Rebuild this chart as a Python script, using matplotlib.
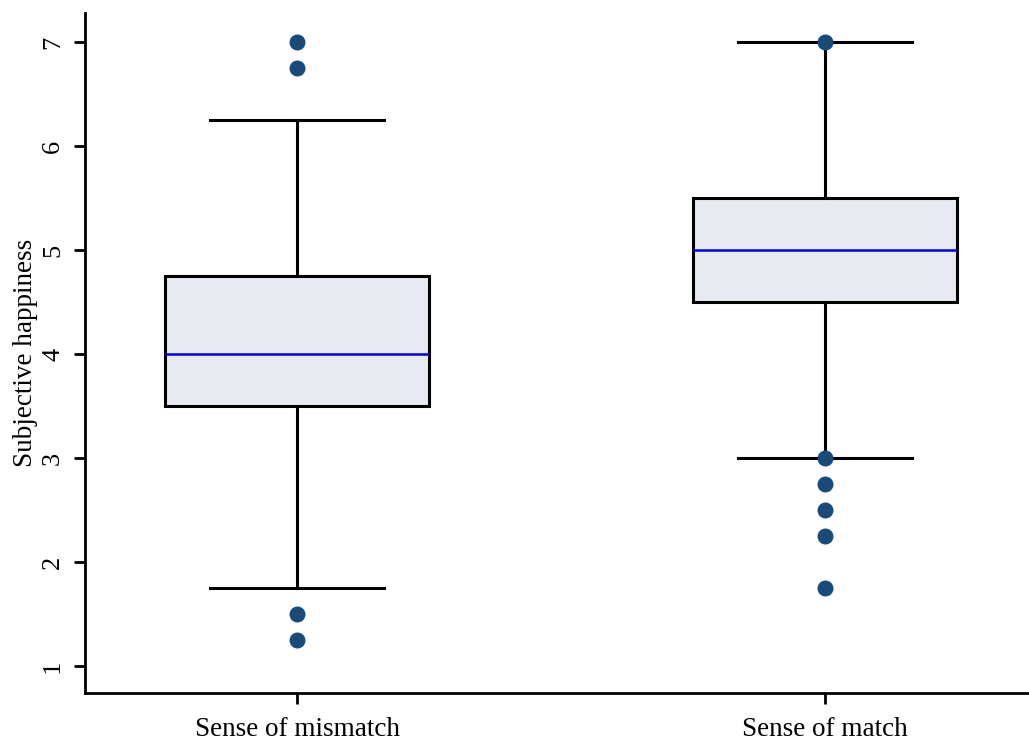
import matplotlib.pyplot as plt

# Box statistics
groups = ["Sense of mismatch", "Sense of match"]
medians = [4.0, 5.0]
q1s = [3.5, 4.5]
q3s = [4.75, 5.5]
whisker_lo = [1.75, 3.0]
whisker_hi = [6.25, 7.0]
outliers = [[7.0, 6.75, 1.5, 1.25], [7.0, 3.0, 2.75, 2.5, 2.25, 1.75]]

plt.rcParams['font.family'] = ['Liberation Serif', 'DejaVu Serif']

stats = []
for i in range(len(groups)):
    stats.append({'med': medians[i], 'q1': q1s[i], 'q3': q3s[i],
                  'whislo': whisker_lo[i], 'whishi': whisker_hi[i],
                  'fliers': outliers[i], 'label': groups[i]})

fig = plt.figure(figsize=(10.29, 7.46), dpi=100)
ax = fig.add_axes([85 / 1029, 53 / 746, 944 / 1029, 680 / 746])

ax.bxp(stats, positions=[0, 1], widths=0.5, patch_artist=True,
       boxprops=dict(facecolor='#e8eaf2', edgecolor='black', linewidth=2.2),
       medianprops=dict(color='#0000ee', linewidth=1.8),
       whiskerprops=dict(color='black', linewidth=2.2),
       capprops=dict(color='black', linewidth=2.2), capwidths=0.33,
       flierprops=dict(marker='o', markerfacecolor='#1a4a7a',
                       markeredgecolor='#1a4a7a', markersize=10.5),
       zorder=2)

ax.set_xlim(-0.4015, 1.386)
ax.set_ylim(0.74, 7.28)
ax.set_yticks([1, 2, 3, 4, 5, 6, 7])
ax.set_ylabel("Subjective happiness", fontsize=19.5, labelpad=3)

for side in ['top', 'right']:
    ax.spines[side].set_visible(False)
for side in ['left', 'bottom']:
    ax.spines[side].set_linewidth(2)

ax.tick_params(axis='both', direction='out', length=8, width=2)
ax.tick_params(axis='y', labelsize=19, labelrotation=90, pad=7)
ax.tick_params(axis='x', labelsize=19.5, pad=9)
for lbl in ax.get_yticklabels():
    lbl.set_va('center')

plt.savefig('out.png', dpi=100)
